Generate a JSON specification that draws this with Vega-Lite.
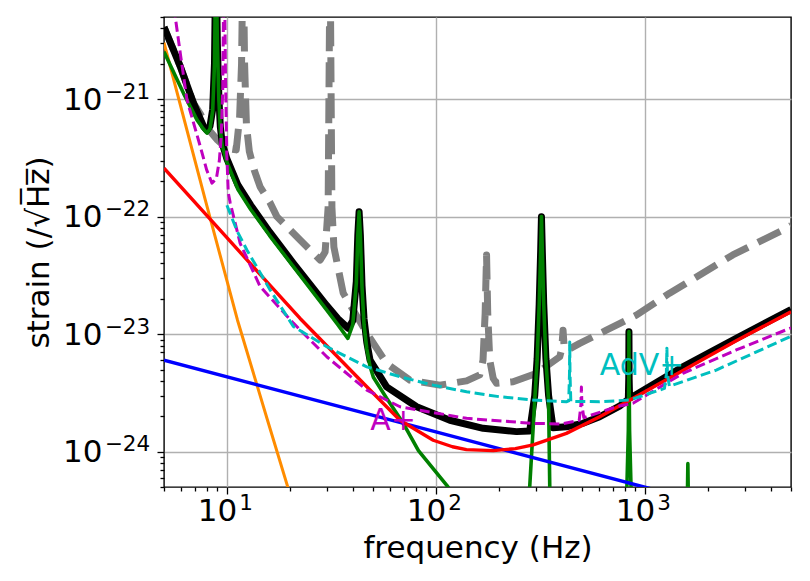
{
  "$schema": "https://vega.github.io/schema/vega-lite/v6.json",
  "width": 627,
  "height": 470,
  "autosize": {"type": "none"},
  "padding": {"left": 164, "top": 17, "right": 19, "bottom": 94},
  "background": "white",
  "config": {
    "view": {"stroke": "black", "strokeWidth": 1.4},
    "font": "DejaVu Sans",
    "text": {"font": "DejaVu Sans"},
    "axis": {"labelFont": "DejaVu Sans", "titleFont": "DejaVu Sans", "labelColor": "black", "titleColor": "black", "titleFontWeight": "normal", "labelOverlap": false, "labelFlush": false, "labelBound": false}
  },
  "datasets": {
    "gray": [
      {"f": 5, "h": 4.1e-21}, {"f": 5.98, "h": 1.9e-21}, {"f": 6.92, "h": 9.25e-22}, {"f": 7.46, "h": 7.5e-22},
      {"f": 8.03, "h": 5.7e-22}, {"f": 9, "h": 4.5e-22}, {"f": 10, "h": 3.8e-22}, {"f": 11.08, "h": 3.7e-22},
      {"f": 11.5, "h": 7e-22}, {"f": 11.75, "h": 2e-21}, {"f": 11.95, "h": 2e-20}, {"f": 12.15, "h": 2e-21},
      {"f": 12.4, "h": 6e-22}, {"f": 12.8, "h": 3.6e-22}, {"f": 13.5, "h": 2.5e-22}, {"f": 14.42, "h": 1.79e-22},
      {"f": 16.1, "h": 1.31e-22}, {"f": 17.34, "h": 1.0e-22}, {"f": 22.4, "h": 6.33e-23}, {"f": 27.92, "h": 4.27e-23},
      {"f": 29.5, "h": 5e-23}, {"f": 30.5, "h": 1.2e-22}, {"f": 31.15, "h": 2e-20}, {"f": 31.8, "h": 1.2e-22},
      {"f": 32.5, "h": 5.5e-23}, {"f": 36, "h": 2.24e-23}, {"f": 46.7, "h": 1.02e-23}, {"f": 58.1, "h": 5.63e-24},
      {"f": 75.1, "h": 4.06e-24}, {"f": 104.5, "h": 3.68e-24}, {"f": 140.2, "h": 4.0e-24}, {"f": 162, "h": 4.5e-24},
      {"f": 168, "h": 6e-24}, {"f": 172, "h": 1.5e-23}, {"f": 174.7, "h": 4.72e-23}, {"f": 177, "h": 1.5e-23},
      {"f": 181, "h": 6e-24}, {"f": 188, "h": 4.2e-24}, {"f": 195, "h": 3.81e-24}, {"f": 234, "h": 3.93e-24},
      {"f": 302.7, "h": 4.64e-24}, {"f": 391.4, "h": 6.42e-24}, {"f": 400, "h": 7.5e-24}, {"f": 405.8, "h": 1.08e-23},
      {"f": 411, "h": 7.6e-24}, {"f": 425, "h": 7.3e-24}, {"f": 487.5, "h": 8.35e-24}, {"f": 654.1, "h": 1.08e-23},
      {"f": 910, "h": 1.45e-23}, {"f": 1312, "h": 2.23e-23}, {"f": 2633, "h": 4.72e-23}, {"f": 4740, "h": 7.95e-23},
      {"f": 5000, "h": 8.4e-23}
    ],
    "total": [
      {"f": 5, "h": 4.1e-21}, {"f": 5.98, "h": 1.9e-21}, {"f": 6.92, "h": 9.25e-22}, {"f": 7.73, "h": 5.85e-22},
      {"f": 8.03, "h": 5.4e-22}, {"f": 8.3, "h": 5.9e-22}, {"f": 8.55, "h": 8.2e-22}, {"f": 8.72, "h": 2e-21},
      {"f": 8.86, "h": 2e-20}, {"f": 9.0, "h": 3e-21}, {"f": 9.15, "h": 1.05e-21}, {"f": 9.3, "h": 5.8e-22},
      {"f": 9.5, "h": 4.2e-22}, {"f": 10, "h": 3.1e-22}, {"f": 11.3, "h": 1.85e-22}, {"f": 13, "h": 1.25e-22},
      {"f": 16, "h": 7.4e-23}, {"f": 20.8, "h": 4.01e-23}, {"f": 30.05, "h": 1.75e-23}, {"f": 34, "h": 1.35e-23},
      {"f": 38.1, "h": 1.12e-23}, {"f": 40.0, "h": 1.3e-23}, {"f": 41.6, "h": 2.8e-23}, {"f": 42.3, "h": 7e-23},
      {"f": 42.9, "h": 1.1e-22}, {"f": 43.5, "h": 7e-23}, {"f": 44.3, "h": 2.6e-23}, {"f": 45.3, "h": 1.35e-23},
      {"f": 46.7, "h": 8.5e-24}, {"f": 48.4, "h": 6.0e-24}, {"f": 58.1, "h": 3.56e-24}, {"f": 80.9, "h": 2.41e-24},
      {"f": 116.7, "h": 1.85e-24}, {"f": 168.3, "h": 1.58e-24}, {"f": 243, "h": 1.48e-24}, {"f": 281, "h": 1.5e-24},
      {"f": 297, "h": 3.0e-24}, {"f": 305, "h": 6.2e-24}, {"f": 312, "h": 1.8e-23}, {"f": 317, "h": 5e-23},
      {"f": 319.9, "h": 1e-22}, {"f": 323, "h": 5e-23}, {"f": 328, "h": 1.8e-23}, {"f": 336, "h": 6.2e-24},
      {"f": 346, "h": 3.0e-24}, {"f": 363.5, "h": 1.6e-24},
      {"f": 421.3, "h": 1.63e-24}, {"f": 505.6, "h": 1.74e-24}, {"f": 607.6, "h": 1.98e-24}, {"f": 760, "h": 2.45e-24},
      {"f": 833, "h": 2.8e-24}, {"f": 837, "h": 4.2e-24}, {"f": 838.7, "h": 1.05e-23}, {"f": 840.4, "h": 4.2e-24},
      {"f": 844.5, "h": 2.85e-24}, {"f": 876.6, "h": 2.95e-24}, {"f": 1519, "h": 5.27e-24}, {"f": 2734, "h": 9.21e-24},
      {"f": 5000, "h": 1.62e-23}
    ],
    "seismic": [
      {"f": 5, "h": 3.02e-21}, {"f": 7.88, "h": 1.39e-22}, {"f": 11.23, "h": 1.32e-23}, {"f": 15.63, "h": 1.86e-24},
      {"f": 19.56, "h": 4.99e-25}, {"f": 22, "h": 2.5e-25}
    ],
    "suspension": [
      {"f": 5, "h": 2.53e-21}, {"f": 6.2, "h": 1.12e-21}, {"f": 7.19, "h": 6.66e-22}, {"f": 7.7, "h": 5.6e-22},
      {"f": 8.03, "h": 5.13e-22}, {"f": 8.3, "h": 5.6e-22}, {"f": 8.55, "h": 8e-22}, {"f": 8.72, "h": 2e-21},
      {"f": 8.86, "h": 2e-20}, {"f": 9.0, "h": 3e-21}, {"f": 9.15, "h": 1e-21}, {"f": 9.3, "h": 5.5e-22},
      {"f": 9.5, "h": 4e-22}, {"f": 10, "h": 2.9e-22}, {"f": 11.3, "h": 1.7e-22}, {"f": 13, "h": 1.15e-22},
      {"f": 16, "h": 6.9e-23}, {"f": 20.8, "h": 3.75e-23}, {"f": 30.05, "h": 1.6e-23}, {"f": 34, "h": 1.2e-23},
      {"f": 37.9, "h": 9.2e-24}, {"f": 40.0, "h": 1.2e-23}, {"f": 41.6, "h": 2.7e-23}, {"f": 42.3, "h": 7e-23},
      {"f": 42.9, "h": 1.1e-22}, {"f": 43.5, "h": 7e-23}, {"f": 44.3, "h": 2.5e-23}, {"f": 45.3, "h": 1.2e-23},
      {"f": 46.7, "h": 7.5e-24}, {"f": 48.4, "h": 5.3e-24}, {"f": 50.2, "h": 4.3e-24}, {"f": 58, "h": 2.86e-24},
      {"f": 69.8, "h": 1.74e-24}, {"f": 82.5, "h": 1.02e-24}, {"f": 112.5, "h": 5.19e-25}, {"f": 150, "h": 2.6e-25},
      {"f": 230, "h": 2.6e-25}, {"f": 281, "h": 5e-25}, {"f": 297, "h": 2.7e-24}, {"f": 305, "h": 6e-24},
      {"f": 312, "h": 1.8e-23}, {"f": 317, "h": 5e-23}, {"f": 319.9, "h": 1e-22}, {"f": 323, "h": 5e-23},
      {"f": 328, "h": 1.8e-23}, {"f": 336, "h": 6e-24}, {"f": 346, "h": 2.7e-24}, {"f": 350.5, "h": 5e-25},
      {"f": 450, "h": 2.2e-25}, {"f": 780, "h": 2.2e-25},
      {"f": 820, "h": 5e-25}, {"f": 833, "h": 1.5e-24}, {"f": 837, "h": 4e-24}, {"f": 838.7, "h": 1.05e-23},
      {"f": 840.4, "h": 4e-24}, {"f": 844.5, "h": 1.5e-24}, {"f": 858, "h": 5e-25}, {"f": 1000, "h": 2.2e-25},
      {"f": 1580, "h": 2.2e-25}, {"f": 1598, "h": 4.5e-25}, {"f": 1605, "h": 7.9e-25}, {"f": 1612, "h": 4.5e-25},
      {"f": 1630, "h": 2.2e-25}, {"f": 5000, "h": 2.2e-25}
    ],
    "coating": [
      {"f": 5, "h": 6.0e-24}, {"f": 100, "h": 1.47e-24}, {"f": 1000, "h": 4.98e-25}, {"f": 2000, "h": 3.6e-25}
    ],
    "quantum": [
      {"f": 5, "h": 2.58e-22}, {"f": 10, "h": 6.62e-23}, {"f": 15, "h": 2.98e-23}, {"f": 22.4, "h": 1.36e-23},
      {"f": 46.7, "h": 3.57e-24}, {"f": 67.3, "h": 1.85e-24},
      {"f": 97.1, "h": 1.25e-24}, {"f": 120, "h": 1.1e-24}, {"f": 140, "h": 1.04e-24}, {"f": 188, "h": 1.02e-24},
      {"f": 240, "h": 1.06e-24}, {"f": 292, "h": 1.14e-24}, {"f": 421, "h": 1.43e-24}, {"f": 608, "h": 1.98e-24},
      {"f": 878, "h": 2.85e-24}, {"f": 1521, "h": 4.9e-24}, {"f": 2735, "h": 8.8e-24}, {"f": 5000, "h": 1.55e-23}
    ],
    "aplus": [
      {"f": 5.5, "h": 8e-21}, {"f": 5.66, "h": 5e-21}, {"f": 6.0, "h": 2.37e-21}, {"f": 6.44, "h": 9.86e-22},
      {"f": 7.0, "h": 5.86e-22}, {"f": 7.46, "h": 3.95e-22}, {"f": 8.0, "h": 2.5e-22}, {"f": 8.48, "h": 1.93e-22},
      {"f": 8.9, "h": 2.1e-22}, {"f": 9.2, "h": 3.0e-22}, {"f": 9.4, "h": 5e-22}, {"f": 9.55, "h": 1.2e-21},
      {"f": 9.7, "h": 2e-20}, {"f": 9.85, "h": 1.5e-21}, {"f": 9.98, "h": 3.5e-22}, {"f": 10.15, "h": 1.6e-22},
      {"f": 10.37, "h": 1.31e-22}, {"f": 11.57, "h": 5.93e-23}, {"f": 14.42, "h": 2.54e-23}, {"f": 20.81, "h": 1.24e-23},
      {"f": 30.05, "h": 6.42e-24}, {"f": 46.7, "h": 3.34e-24}, {"f": 67.3, "h": 2.41e-24}, {"f": 140.2, "h": 1.92e-24},
      {"f": 291.6, "h": 1.74e-24}, {"f": 400, "h": 1.72e-24}, {"f": 485, "h": 1.85e-24}, {"f": 494, "h": 2.5e-24},
      {"f": 496.7, "h": 3.54e-24}, {"f": 499.5, "h": 2.5e-24}, {"f": 510, "h": 1.95e-24}, {"f": 730, "h": 2.41e-24},
      {"f": 876.6, "h": 2.58e-24}, {"f": 1519, "h": 4.64e-24}, {"f": 2734, "h": 7.33e-24}, {"f": 5000, "h": 1.13e-23}
    ],
    "advplus": [
      {"f": 10, "h": 1.25e-22}, {"f": 11.2, "h": 7.5e-23}, {"f": 12.46, "h": 5.2e-23}, {"f": 16.1, "h": 2.38e-23},
      {"f": 20.8, "h": 1.16e-23}, {"f": 30.05, "h": 7.82e-24}, {"f": 46.7, "h": 5.27e-24}, {"f": 67.3, "h": 4.34e-24},
      {"f": 97.1, "h": 3.68e-24}, {"f": 140.2, "h": 3.23e-24}, {"f": 202.2, "h": 2.93e-24}, {"f": 291.6, "h": 2.75e-24},
      {"f": 421, "h": 2.66e-24}, {"f": 432, "h": 2.7e-24}, {"f": 435.5, "h": 4.5e-24}, {"f": 436.8, "h": 8.57e-24},
      {"f": 438.2, "h": 4.5e-24}, {"f": 442, "h": 2.68e-24}, {"f": 607.6, "h": 2.66e-24}, {"f": 845, "h": 2.75e-24},
      {"f": 1240, "h": 3.45e-24}, {"f": 1266, "h": 4.5e-24}, {"f": 1274, "h": 7.6e-24}, {"f": 1282, "h": 4.5e-24},
      {"f": 1310, "h": 3.6e-24}, {"f": 2194, "h": 4.94e-24}, {"f": 5000, "h": 9.6e-24}
    ],
    "labels": [
      {"f": 48.5, "h": 1.53e-24, "t": "A+", "c": "aplus"},
      {"f": 607.6, "h": 4.49e-24, "t": "AdV+", "c": "advplus"}
    ]
  },
  "encoding": {
    "x": {"field": "f", "type": "quantitative", "scale": {"type": "log", "domain": [5, 5000], "nice": false}, "axis": null},
    "y": {"field": "h", "type": "quantitative", "scale": {"type": "log", "domain": [5e-25, 5e-21], "nice": false}, "axis": null}
  },
  "layer": [
    {
      "data": {"name": "gray"},
      "mark": {"type": "line", "color": "#808080", "strokeWidth": 7, "strokeDash": [25, 11], "clip": true, "strokeJoin": "round"},
      "encoding": {
        "x": {
          "field": "f", "type": "quantitative", "scale": {"type": "log", "domain": [5, 5000], "nice": false},
          "axis": {
            "orient": "bottom",
            "values": [5, 6, 7, 8, 9, 10, 20, 30, 40, 50, 60, 70, 80, 90, 100, 200, 300, 400, 500, 600, 700, 800, 900, 1000, 2000, 3000, 4000, 5000],
            "labels": false, "title": null, "domain": false,
            "grid": true, "gridColor": "#b0b0b0", "gridWidth": 1.4,
            "gridOpacity": {"condition": {"test": "datum.value == 10 || datum.value == 100 || datum.value == 1000", "value": 1}, "value": 0},
            "tickSize": {"condition": {"test": "datum.value == 10 || datum.value == 100 || datum.value == 1000", "value": 7}, "value": 4},
            "tickColor": "black", "tickWidth": 1.3
          }
        },
        "y": {
          "field": "h", "type": "quantitative", "scale": {"type": "log", "domain": [5e-25, 5e-21], "nice": false},
          "axis": {
            "orient": "left",
            "values": [5e-25, 6e-25, 7e-25, 8e-25, 9e-25, 1e-24, 2e-24, 3e-24, 4e-24, 5e-24, 6e-24, 7e-24, 8e-24, 9e-24, 1e-23, 2e-23, 3e-23, 4e-23, 5e-23, 6e-23, 7e-23, 8e-23, 9e-23, 1e-22, 2e-22, 3e-22, 4e-22, 5e-22, 6e-22, 7e-22, 8e-22, 9e-22, 1e-21, 2e-21, 3e-21, 4e-21, 5e-21],
            "labels": false, "title": null, "domain": false,
            "grid": true, "gridColor": "#b0b0b0", "gridWidth": 1.4,
            "gridOpacity": {"condition": {"test": "abs(log(datum.value)/LN10 - round(log(datum.value)/LN10)) < 0.001", "value": 1}, "value": 0},
            "tickSize": {"condition": {"test": "abs(log(datum.value)/LN10 - round(log(datum.value)/LN10)) < 0.001", "value": 7}, "value": 4},
            "tickColor": "black", "tickWidth": 1.3
          }
        }
      }
    },
    {
      "data": {"name": "total"},
      "mark": {"type": "line", "color": "#000000", "strokeWidth": 7, "clip": true, "strokeJoin": "round"},
      "encoding": {
        "x": {
          "field": "f", "type": "quantitative", "scale": {"type": "log", "domain": [5, 5000], "nice": false},
          "axis": {
            "orient": "bottom", "values": [10, 100, 1000], "labelExpr": "'10'",
            "ticks": false, "domain": false, "grid": false,
            "labelFontSize": 31, "labelAlign": "center", "labelBaseline": "alphabetic", "labelPadding": 33, "labelOffset": -9.9,
            "title": "frequency (Hz)", "titleFontSize": 31, "titlePadding": 7
          }
        },
        "y": {
          "field": "h", "type": "quantitative", "scale": {"type": "log", "domain": [5e-25, 5e-21], "nice": false},
          "axis": {
            "orient": "left", "values": [1e-24, 1e-23, 1e-22, 1e-21], "labelExpr": "'10'",
            "ticks": false, "domain": false, "grid": false,
            "labelFontSize": 31, "labelAlign": "right", "labelBaseline": "alphabetic", "labelPadding": 62, "labelOffset": 10.2,
            "title": "strain (/√H̅z̅)", "titleFontSize": 31, "titlePadding": 7
          }
        }
      }
    },
    {
      "data": {"name": "seismic"},
      "mark": {"type": "line", "color": "#ff8c00", "strokeWidth": 3, "clip": true, "strokeJoin": "round"},
      "encoding": {
        "x": {
          "field": "f", "type": "quantitative", "scale": {"type": "log", "domain": [5, 5000], "nice": false},
          "axis": {
            "orient": "bottom", "values": [10, 100, 1000],
            "labelExpr": "datum.value == 10 ? '1' : datum.value == 100 ? '2' : '3'",
            "ticks": false, "domain": false, "grid": false,
            "labelFontSize": 21.5, "labelAlign": "center", "labelBaseline": "alphabetic", "labelPadding": 22.3, "labelOffset": 18.8,
            "title": null
          }
        },
        "y": {
          "field": "h", "type": "quantitative", "scale": {"type": "log", "domain": [5e-25, 5e-21], "nice": false},
          "axis": {
            "orient": "left", "values": [1e-24, 1e-23, 1e-22, 1e-21],
            "labelExpr": "log(datum.value)/LN10 > -21.5 ? '−21' : log(datum.value)/LN10 > -22.5 ? '−22' : log(datum.value)/LN10 > -23.5 ? '−23' : '−24'",
            "ticks": false, "domain": false, "grid": false,
            "labelFontSize": 21.5, "labelAlign": "right", "labelBaseline": "alphabetic", "labelPadding": 14.4, "labelOffset": -0.8,
            "title": null
          }
        }
      }
    },
    {"data": {"name": "suspension"}, "mark": {"type": "line", "color": "#008000", "strokeWidth": 3.6, "clip": true, "strokeJoin": "round"}},
    {"data": {"name": "coating"}, "mark": {"type": "line", "color": "#0000ff", "strokeWidth": 3.4, "clip": true, "strokeJoin": "round"}},
    {"data": {"name": "quantum"}, "mark": {"type": "line", "color": "#ff0000", "strokeWidth": 3.4, "clip": true, "strokeJoin": "round"}},
    {"data": {"name": "aplus"}, "mark": {"type": "line", "color": "#bf00bf", "strokeWidth": 3, "strokeDash": [10, 4.5], "clip": true, "strokeJoin": "round"}},
    {"data": {"name": "advplus"}, "mark": {"type": "line", "color": "#00bfbf", "strokeWidth": 3, "strokeDash": [10, 4.5], "clip": true, "strokeJoin": "round"}},
    {
      "data": {"name": "labels"},
      "mark": {"type": "text", "align": "left", "baseline": "alphabetic", "fontSize": 30, "font": "DejaVu Sans"},
      "encoding": {
        "text": {"field": "t"},
        "color": {"field": "c", "type": "nominal", "scale": {"domain": ["aplus", "advplus"], "range": ["#bf00bf", "#00bfbf"]}, "legend": null}
      }
    }
  ],
  "resolve": {"axis": {"x": "independent", "y": "independent"}}
}
